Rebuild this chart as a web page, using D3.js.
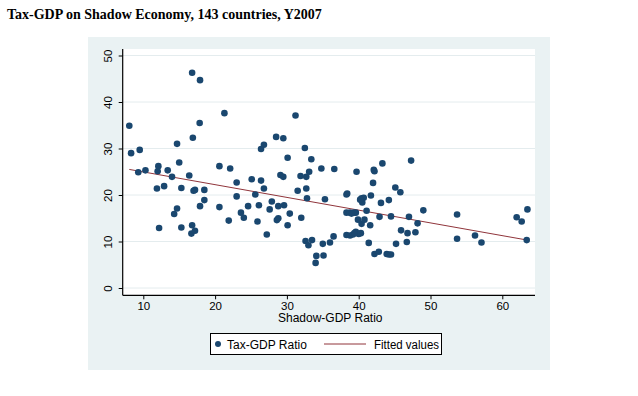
<!DOCTYPE html>
<html>
<head>
<meta charset="utf-8">
<script src="https://cdn.jsdelivr.net/npm/d3@7"></script>
<style>
  body { margin: 0; background: #fff; }
  svg { display: block; font-family: Arial, 'Liberation Sans', sans-serif; }
</style>
</head>
<body>
<script>
// Shadow-GDP ratio (x) and Tax-GDP ratio (y), one entry per country
const shadowGdp = [
  8.05, 8.3, 9.5, 9.3, 10.3, 12.0, 12.1, 13.4, 14.0, 15.0,
  14.7, 16.4, 16.8, 17.9, 17.85, 16.9, 21.3, 11.9, 12.9, 15.3,
  17.0, 17.2, 18.5, 18.5, 17.9, 14.7, 14.3, 12.2, 15.3, 16.8,
  16.7, 17.2, 20.6, 22.1, 23.0, 23.0, 20.6, 25.1, 26.4, 25.6,
  26.1, 24.6, 23.6, 24.0, 21.9, 25.9, 26.4, 26.8, 26.8, 27.2,
  27.6, 27.9, 28.8, 29.6, 28.8, 28.6, 30.4, 30.1, 28.5, 29.5,
  31.2, 32.5, 30.1, 33.4, 29.1, 29.5, 31.9, 32.7, 33.1, 34.8,
  36.6, 31.5, 32.7, 32.8, 32.0, 35.3, 32.6, 33.0, 33.5, 35.0,
  36.0, 36.5, 34.1, 35.1, 34.0, 38.3, 40.4, 40.7, 40.5, 41.7,
  42.0, 39.7, 42.1, 42.2, 43.3, 47.3, 43.1, 44.2, 45.1, 45.8,
  38.3, 38.8, 39.3, 39.6, 39.9, 40.4, 40.8, 41.1, 41.6, 42.9,
  44.5, 45.9, 38.3, 38.8, 39.2, 39.6, 40.0, 40.3, 41.4, 45.2,
  42.2, 42.8, 43.9, 44.2, 44.5, 49.0, 47.0, 48.2, 46.8, 47.9,
  46.7, 53.7, 53.7, 56.2, 57.1, 62.0, 62.7, 63.5, 63.4, 38.4,
  39.0, 39.4, 40.2
];
const taxGdp = [
  34.9, 29.0, 29.7, 24.9, 25.3, 25.1, 26.2, 25.3, 23.9, 27.0,
  31.0, 24.2, 46.3, 44.7, 35.5, 32.3, 37.6, 21.4, 21.9, 21.5,
  20.9, 21.1, 21.1, 18.9, 17.6, 17.1, 15.9, 12.9, 13.0, 13.5,
  11.7, 12.3, 26.2, 25.7, 22.7, 19.7, 17.4, 23.4, 23.1, 20.1,
  17.8, 17.6, 16.2, 15.1, 14.5, 14.3, 29.9, 30.8, 21.4, 11.5,
  16.9, 18.6, 17.6, 17.8, 15.0, 14.6, 16.0, 13.5, 32.5, 32.2,
  37.1, 30.1, 28.0, 27.7, 24.3, 23.9, 24.1, 23.9, 25.0, 25.7,
  25.6, 20.9, 21.4, 19.3, 15.1, 19.1, 10.1, 9.2, 10.3, 9.5,
  9.8, 11.1, 6.9, 7.0, 5.4, 20.1, 19.3, 19.4, 18.4, 19.9,
  22.6, 25.0, 25.4, 25.1, 26.8, 27.4, 18.3, 18.9, 21.6, 20.6,
  16.2, 16.2, 16.2, 16.2, 14.7, 13.8, 14.7, 16.6, 13.5, 15.3,
  15.4, 12.4, 11.4, 11.3, 11.5, 12.1, 11.6, 11.8, 9.7, 9.5,
  7.3, 7.8, 7.3, 7.2, 7.2, 16.7, 15.3, 13.9, 11.8, 12.0,
  9.9, 15.8, 10.6, 11.3, 9.8, 15.2, 14.3, 16.9, 10.3, 20.3,
  16.0, 11.8, 19.0
];

// Fitted values line, end points
const fitShadow = [8.05, 63.5];
const fitTax = [25.5, 10.3];

const xTicks = [10, 20, 30, 40, 50, 60];
const yTicks = [0, 10, 20, 30, 40, 50];

const W = 638;
const H = 396;
const navy = '#1a476f';
const maroon = '#90353b';
const panel = '#eaf2f3';

const svg = d3.select('body')
  .append('svg')
  .attr('width', W)
  .attr('height', H);

// Title
svg.append('text')
  .attr('x', 7)
  .attr('y', 19)
  .attr('font-family', "'Liberation Serif', 'Times New Roman', serif")
  .attr('font-weight', 700)
  .attr('font-size', 14)
  .text('Tax-GDP on Shadow Economy, 143 countries, Y2007');

// Graph region
svg.append('rect')
  .attr('x', 88)
  .attr('y', 37)
  .attr('width', 462)
  .attr('height', 333)
  .attr('fill', panel);

const plot = { left: 122.7, right: 535, top: 49, bottom: 295.3 };

// Plot region
svg.append('rect')
  .attr('x', plot.left)
  .attr('y', plot.top)
  .attr('width', plot.right - plot.left)
  .attr('height', plot.bottom - plot.top)
  .attr('fill', '#fff');

const x = d3.scaleLinear().domain([10, 60]).range([143.3, 502.3]);
const y = d3.scaleLinear().domain([0, 50]).range([288, 55.5]);

// Gridlines
svg.append('g')
  .selectAll('line')
  .data(yTicks)
  .join('line')
  .attr('x1', plot.left)
  .attr('x2', plot.right)
  .attr('y1', (d) => y(d))
  .attr('y2', (d) => y(d))
  .attr('stroke', '#e4ecee')
  .attr('stroke-width', 1);

// Y axis
const yAxis = svg.append('g')
  .attr('transform', `translate(${plot.left},0)`)
  .call(d3.axisLeft(y).tickValues(yTicks).tickSize(4).tickPadding(0).tickFormat(d3.format('d')));
yAxis.select('.domain')
  .attr('d', `M0,${plot.top}V${plot.bottom}`)
  .attr('stroke', '#000')
  .attr('stroke-width', 1.2);
yAxis.selectAll('.tick line').attr('stroke', '#000');
yAxis.selectAll('.tick text')
  .attr('font-size', 11.5)
  .attr('fill', '#000')
  .attr('text-anchor', 'middle')
  .attr('x', null)
  .attr('dy', null)
  .attr('transform', 'translate(-14.5,0) rotate(-90)')
  .attr('dominant-baseline', 'central');

// X axis
const xAxis = svg.append('g')
  .attr('transform', `translate(0,${plot.bottom})`)
  .call(d3.axisBottom(x).tickValues(xTicks).tickSize(4).tickPadding(3).tickFormat(d3.format('d')));
xAxis.select('.domain')
  .attr('d', `M${plot.left},0H${plot.right}`)
  .attr('stroke', '#000')
  .attr('stroke-width', 1.2);
xAxis.selectAll('.tick line').attr('stroke', '#000');
xAxis.selectAll('.tick text')
  .attr('font-size', 11.5)
  .attr('fill', '#000');

// X axis title
svg.append('text')
  .attr('x', 278)
  .attr('y', 322)
  .attr('font-size', 12)
  .text('Shadow-GDP Ratio');

// Fitted line
svg.append('line')
  .attr('x1', x(fitShadow[0]))
  .attr('y1', y(fitTax[0]))
  .attr('x2', x(fitShadow[1]))
  .attr('y2', y(fitTax[1]))
  .attr('stroke', maroon)
  .attr('stroke-width', 1);

// Points
svg.append('g')
  .selectAll('circle')
  .data(d3.range(shadowGdp.length))
  .join('circle')
  .attr('cx', (i) => x(shadowGdp[i]))
  .attr('cy', (i) => y(taxGdp[i]))
  .attr('r', 3.3)
  .attr('fill', navy);

// Legend
const lg = svg.append('g').attr('class', 'legend');
lg.append('rect')
  .attr('x', 210.5)
  .attr('y', 333.5)
  .attr('width', 231)
  .attr('height', 21)
  .attr('fill', '#fff')
  .attr('stroke', '#000')
  .attr('stroke-width', 1);
lg.append('circle')
  .attr('cx', 218)
  .attr('cy', 344)
  .attr('r', 3)
  .attr('fill', navy);
lg.append('text')
  .attr('x', 227)
  .attr('y', 348.5)
  .attr('font-size', 12)
  .text('Tax-GDP Ratio');
lg.append('line')
  .attr('x1', 324)
  .attr('x2', 366)
  .attr('y1', 344)
  .attr('y2', 344)
  .attr('stroke', maroon)
  .attr('stroke-width', 1);
lg.append('text')
  .attr('x', 374)
  .attr('y', 348.5)
  .attr('font-size', 12)
  .attr('textLength', 65)
  .attr('lengthAdjust', 'spacingAndGlyphs')
  .text('Fitted values');
</script>
</body>
</html>
